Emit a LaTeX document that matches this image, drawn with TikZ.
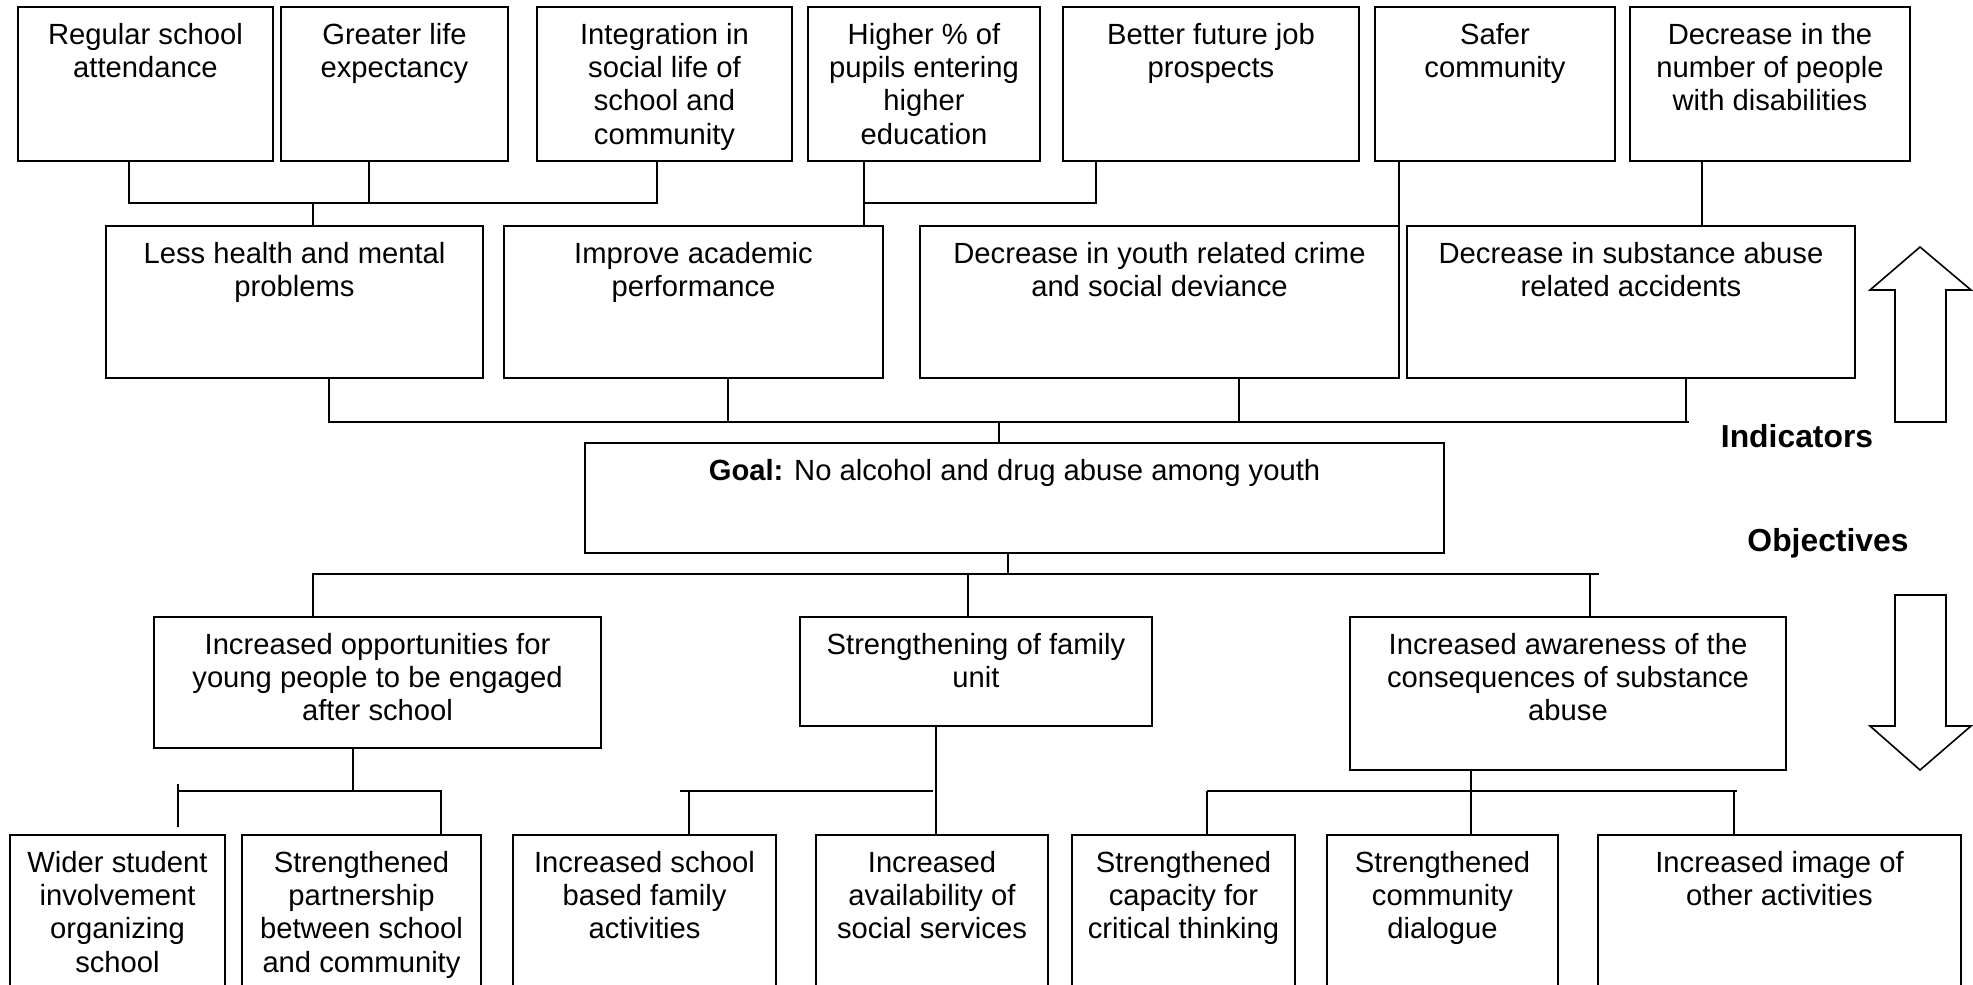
\documentclass[tikz,border=0pt]{standalone}
\usepackage{fontspec}
\setmainfont{Liberation Sans}
\newcommand\bodyfont{\fontsize{29.2}{33.3}\selectfont}
\newcommand\headfont{\fontsize{31.85}{36}\selectfont\bfseries}
% box with its text hung from the top edge: name, x1, y1, x2, y2, text
\newcommand\bx[6]{%
  \node[box, minimum width={(#4-#2)*1pt}, minimum height={(#5-#3)*1pt},
        label={[txt]north:{\strut #6}}] (#1) at ({(#2+#4)/2},{(#3+#5)/2}) {};}
\begin{document}
\begin{tikzpicture}[x=1pt,y=-1pt,
  box/.style={draw=black, line width=1.8pt, fill=white, inner sep=0pt, outer sep=0pt},
  txt/.style={anchor=north, yshift=-13.7pt, align=center, inner sep=0pt, font=\bodyfont},
  link/.style={draw=black, line width=1.4pt},
  blockarrow/.style={draw=black, line width=1.6pt, fill=white, line join=miter},
  head/.style={font=\headfont, inner sep=0pt, anchor=base}]
\useasboundingbox (0,0) rectangle (1973,985);

% indicators, top row
\bx{b1}{18}{7}{273}{161}{Regular school\\attendance}
\bx{b2}{281}{7}{508}{161}{Greater life\\expectancy}
\bx{b3}{537}{7}{792}{161}{Integration in\\social life of\\school and\\community}
\bx{b4}{808}{7}{1040}{161}{Higher \% of\\pupils entering\\higher\\education}
\bx{b5}{1063}{7}{1359}{161}{Better future job\\prospects}
\bx{b6}{1375}{7}{1615}{161}{Safer\\community}
\bx{b7}{1630}{7}{1910}{161}{Decrease in the\\number of people\\with disabilities}

% indicators, second row
\bx{m1}{106}{226}{483}{378}{Less health and mental\\problems}
\bx{m2}{504}{226}{883}{378}{Improve academic\\performance}
\bx{m3}{920}{226}{1399}{378}{Decrease in youth related crime\\and social deviance}
\bx{m4}{1407}{226}{1855}{378}{Decrease in substance abuse\\related accidents}

% goal
\node[box, minimum width=859pt, minimum height=110pt,
      label={[txt]north:{\strut\textbf{Goal:} No alcohol and drug abuse among youth}}]
      (goal) at (1014.5,498) {};

% objectives
\bx{o1}{154}{617}{601}{748}{Increased opportunities for\\young people to be engaged\\after school}
\bx{o2}{800}{617}{1152}{726}{Strengthening of family\\unit}
\bx{o3}{1350}{617}{1786}{770}{Increased awareness of the\\consequences of substance\\abuse}

% activities, bottom row
\bx{w1}{10}{835}{225}{1000}{Wider student\\involvement\\organizing\\school}
\bx{w2}{242}{835}{481}{1000}{Strengthened\\partnership\\between school\\and community}
\bx{w3}{513}{835}{776}{1000}{Increased school\\based family\\activities}
\bx{w4}{816}{835}{1048}{1000}{Increased\\availability of\\social services}
\bx{w5}{1072}{835}{1295}{1000}{Strengthened\\capacity for\\critical thinking}
\bx{w6}{1327}{835}{1558}{1000}{Strengthened\\community\\dialogue}
\bx{w7}{1598}{835}{1961}{1000}{Increased image of\\other activities}

% junction points
\coordinate (u0) at (313,203);  \coordinate (u1) at (129,203);
\coordinate (u2) at (369,203);  \coordinate (u3) at (657,203);
\coordinate (v1) at (864,203);  \coordinate (v2) at (1096,203);
\coordinate (z1) at (1702,203);
\coordinate (g0) at (999,422);  \coordinate (g1) at (329,422);
\coordinate (g2) at (728,422);  \coordinate (g3) at (1239,422);
\coordinate (g4) at (1686,422); \coordinate (g5) at (1689,422);
\coordinate (h0) at (1008,574); \coordinate (h1) at (313,574);
\coordinate (h2) at (968,574);  \coordinate (h3) at (1590,574);
\coordinate (h4) at (1599,574);
\coordinate (k0) at (353,791);  \coordinate (k1) at (178,791);
\coordinate (k2) at (441,791);
\coordinate (k1a) at (178,784); \coordinate (k1b) at (178,827);
\coordinate (f0) at (936,791);  \coordinate (f1) at (680,791);
\coordinate (f2) at (689,791);  \coordinate (f3) at (933,791);
\coordinate (a0) at (1471,791); \coordinate (a1) at (1207,791);
\coordinate (a2) at (1734,791); \coordinate (a3) at (1737,791);

% top row into second row
\draw[link] (b1.south -| u1) -- (u1) -- (u3) -- (b3.south -| u3);
\draw[link] (b2.south -| u2) -- (u2);
\draw[link] (u0) -- (m1.north -| u0);
\draw[link] (b4.south -| v1) -- (m2.north -| v1);
\draw[link] (v1) -- (v2) -- (b5.south -| v2);
\draw[link] (b6.south -| m3.north east) -- (m3.north east);
\draw[link] (b7.south -| z1) -- (m4.north -| z1);

% second row into goal
\draw[link] (m1.south -| g1) -- (g1) -- (g5);
\draw[link] (g4) -- (m4.south -| g4);
\draw[link] (m2.south -| g2) -- (g2);
\draw[link] (m3.south -| g3) -- (g3);
\draw[link] (g0) -- (goal.north -| g0);

% goal into objectives
\draw[link] (goal.south -| h0) -- (h0);
\draw[link] (o1.north -| h1) -- (h1) -- (h4);
\draw[link] (h2) -- (o2.north -| h2);
\draw[link] (h3) -- (o3.north -| h3);

% objectives into activities
\draw[link] (o1.south -| k0) -- (k0);
\draw[link] (k1) -- (k2) -- (w2.north -| k2);
\draw[link] (k1a) -- (k1b);
\draw[link] (o2.south -| f0) -- (w4.north -| f0);
\draw[link] (f1) -- (f3);
\draw[link] (f2) -- (w3.north -| f2);
\draw[link] (o3.south -| a0) -- (w6.north -| a0);
\draw[link] (a1) -- (a3);
\draw[link] (a1) -- (w5.north -| a1);
\draw[link] (a2) -- (w7.north -| a2);

% direction arrows
\draw[blockarrow] (1895,422) -- (1895,290) -- (1870,290) -- (1920,247)
  -- (1971,290) -- (1946,290) -- (1946,422) -- cycle;
\draw[blockarrow] (1895,595) -- (1895,726) -- (1870,726) -- (1920,770)
  -- (1971,726) -- (1946,726) -- (1946,595) -- cycle;

\node[head] (ind) at (1797,447) {Indicators};
\node[head] (obj) at (1828,551) {Objectives};
\end{tikzpicture}
\end{document}
